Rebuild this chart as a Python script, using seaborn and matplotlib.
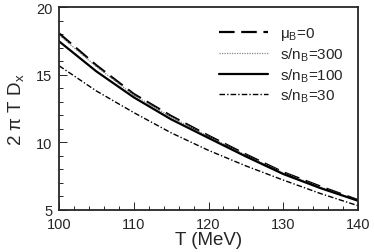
import numpy as np
import pandas as pd
import seaborn as sns
import matplotlib.pyplot as plt
from matplotlib.ticker import MultipleLocator

# Temperature grid (MeV)
T = [100, 105, 110, 115, 120, 125, 130, 135, 140]
# 2 pi T D_x
mu0 = [18.07, 15.7, 13.58, 11.95, 10.49, 9.1, 7.78, 6.72, 5.72]
s300 = [17.95, 15.6, 13.5, 11.88, 10.44, 9.05, 7.74, 6.68, 5.70]
s100 = [17.48, 15.25, 13.33, 11.7, 10.32, 8.95, 7.65, 6.6, 5.67]
s30 = [15.67, 13.8, 12.2, 10.7, 9.4, 8.25, 7.2, 6.2, 5.3]

labels = ['μ$_\\mathrm{B}$=0', 's/n$_\\mathrm{B}$=300',
          's/n$_\\mathrm{B}$=100', 's/n$_\\mathrm{B}$=30']

df = pd.DataFrame({
    'T': T * 4,
    'D': mu0 + s300 + s100 + s30,
    'case': np.repeat(labels, len(T)),
})

sns.set_style('ticks')
plt.rcParams['font.family'] = ['Liberation Sans', 'DejaVu Sans']
plt.rcParams['mathtext.fontset'] = 'custom'
plt.rcParams['mathtext.rm'] = 'Liberation Sans'

fig = plt.figure(figsize=(3.74, 2.53), dpi=100)
ax = fig.add_axes([0.158, 0.167, 0.799, 0.800])

colors = ['k', '#888888', 'k', 'k']
widths = [1.6, 0.9, 1.6, 1.0]
dashes = {labels[0]: (7, 3), labels[1]: (1, 1), labels[2]: '',
          labels[3]: (4, 1.5, 1, 1.5)}
sns.lineplot(data=df, x='T', y='D', style='case', style_order=labels,
             dashes=dashes, color='k', ax=ax, legend=True)
for line, c, lw in zip(ax.lines, colors, widths):
    line.set_color(c)
    line.set_linewidth(lw)

ax.set_xlim(100, 140)
ax.set_ylim(5, 20)
ax.xaxis.set_major_locator(MultipleLocator(10))
ax.xaxis.set_minor_locator(MultipleLocator(2))
ax.yaxis.set_major_locator(MultipleLocator(5))
ax.yaxis.set_minor_locator(MultipleLocator(1))
ax.tick_params(which='both', direction='in', labelsize=10.5, width=0.7)
ax.tick_params(axis='x', which='major', pad=5)
ax.tick_params(axis='y', which='major', pad=5)
ax.tick_params(which='major', length=6)
ax.tick_params(which='minor', length=3)
for sp in ax.spines.values():
    sp.set_linewidth(1.3)
ax.set_xlabel('T (MeV)', fontsize=13.5, labelpad=0)
ax.set_ylabel('2 π T D$_\\mathrm{x}$', fontsize=13.5, labelpad=6)

handles, _ = ax.get_legend_handles_labels()
for h, c, lw in zip(handles, colors, widths):
    h.set_color(c)
    h.set_linewidth(lw)
ax.legend(handles, labels, loc='upper right', frameon=False, fontsize=11,
          handlelength=3.2, handletextpad=0.8, labelspacing=0.2,
          bbox_to_anchor=(1.0, 0.98))

fig.savefig('out.png', dpi=100)
